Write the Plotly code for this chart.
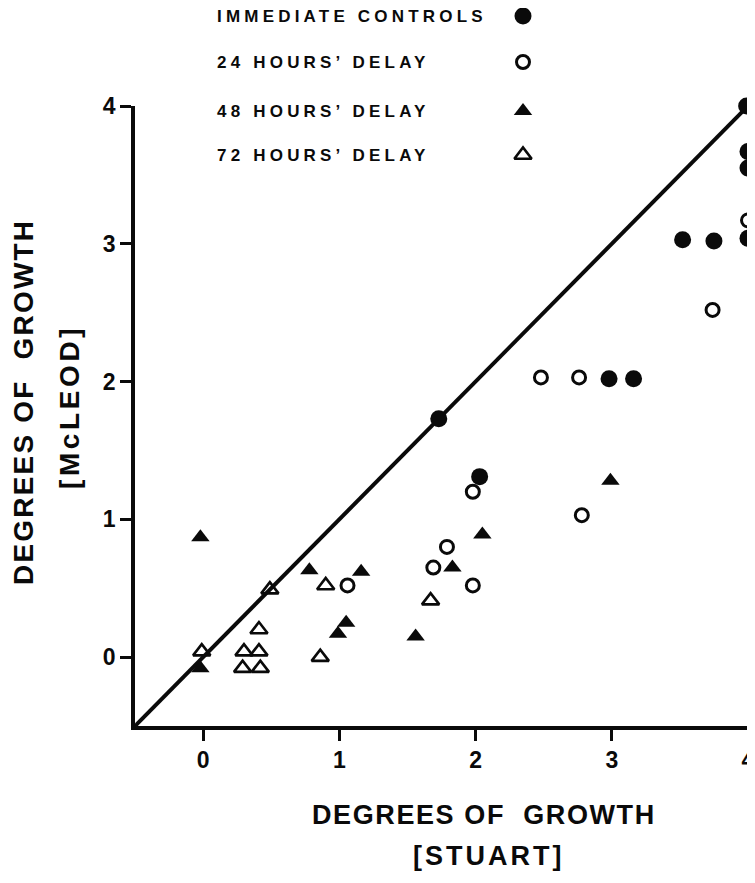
import plotly.graph_objects as go

# ---------------- data ----------------
series_names = ["IMMEDIATE CONTROLS", "24 HOURS\u2019 DELAY", "48 HOURS\u2019 DELAY", "72 HOURS\u2019 DELAY"]

immediate_x = [1.73, 2.03, 2.98, 3.16, 3.52, 3.75, 3.99, 4.0, 4.0, 4.0]
immediate_y = [1.73, 1.31, 2.02, 2.02, 3.03, 3.02, 4.0, 3.67, 3.55, 3.04]

delay24_x = [2.48, 2.76, 4.0, 3.74, 1.98, 2.78, 1.79, 1.69, 1.98, 1.06]
delay24_y = [2.03, 2.03, 3.17, 2.52, 1.20, 1.03, 0.80, 0.65, 0.52, 0.52]

delay48_x = [-0.02, -0.02, 0.78, 1.16, 1.05, 0.99, 1.56, 2.05, 1.83, 2.99]
delay48_y = [0.87, -0.08, 0.63, 0.62, 0.25, 0.17, 0.15, 0.89, 0.65, 1.28]

delay72_x = [-0.01, 0.49, 0.30, 0.41, 0.29, 0.42, 0.41, 0.90, 0.86, 1.67]
delay72_y = [0.04, 0.49, 0.04, 0.04, -0.08, -0.08, 0.20, 0.52, 0.00, 0.41]

identity_x = [-0.5, 4.0]
identity_y = [-0.5, 4.0]

tick_vals = [0, 1, 2, 3, 4]
tick_text = ["0", "1", "2", "3", "4"]

# ---------------- layout constants ----------------
INK = "#0a0a0a"
FONT = "Liberation Sans, Arial, sans-serif"
FIG_W, FIG_H = 755, 883
M_L, M_R, M_T, M_B = 127, 15, 0, 165
PLOT_W = FIG_W - M_L - M_R          # 613
PLOT_H = FIG_H - M_T - M_B          # 718
MAIN_TOP = 0.8635                   # main y-axis domain top

# legend panel uses pixel-like coordinates (x2: px from figure left, y2: px from top)
LEG_TEXT_X = 207
LEG_MARK_X = 515
LEG_ROWS_Y = [8, 54, 103, 147]

styles = [
    dict(symbol="circle", size=17, color=INK, line=dict(width=0)),
    dict(symbol="circle-open", size=13, color=INK, line=dict(width=3, color=INK)),
    dict(symbol="triangle-up", size=16, color=INK, line=dict(width=0)),
    dict(symbol="triangle-up-open", size=15, color=INK, line=dict(width=2.6, color=INK)),
]
series = [
    (immediate_x, immediate_y),
    (delay24_x, delay24_y),
    (delay48_x, delay48_y),
    (delay72_x, delay72_y),
]

fig = go.Figure()

fig.add_trace(go.Scatter(
    x=identity_x, y=identity_y, mode="lines",
    line=dict(color=INK, width=4), showlegend=False, hoverinfo="skip",
    cliponaxis=False,
))

for (xs, ys), st, name in zip(series, styles, series_names):
    fig.add_trace(go.Scatter(
        x=xs, y=ys, mode="markers", name=name, marker=st,
        showlegend=False, cliponaxis=False,
    ))

# manual legend: text on the left, symbol on the right
for name, st, ly in zip(series_names, styles, LEG_ROWS_Y):
    fig.add_trace(go.Scatter(
        x=[LEG_MARK_X], y=[ly], mode="markers", marker=st, xaxis="x2", yaxis="y2",
        showlegend=False, cliponaxis=False, hoverinfo="skip",
    ))
    fig.add_annotation(
        x=LEG_TEXT_X, y=ly, xref="x2", yref="y2", xanchor="left", yanchor="middle",
        text='<b><span style="letter-spacing:4.2px">' + name + "</span></b>",
        showarrow=False, font=dict(family=FONT, size=17, color=INK),
    )

def px_x(sx):
    return (sx - 8 - M_L) / PLOT_W

def px_y(sy):
    return (PLOT_H - (sy - 8 - M_T)) / PLOT_H

fig.add_annotation(
    x=px_x(484), y=px_y(815), xref="paper", yref="paper", xanchor="center", yanchor="middle",
    text='<b><span style="letter-spacing:1.6px">DEGREES OF  GROWTH</span></b>',
    showarrow=False, font=dict(family=FONT, size=27, color=INK),
)
fig.add_annotation(
    x=px_x(488), y=px_y(856), xref="paper", yref="paper", xanchor="center", yanchor="middle",
    text='<b><span style="letter-spacing:3px">[STUART]</span></b>',
    showarrow=False, font=dict(family=FONT, size=27, color=INK),
)
fig.add_annotation(
    x=px_x(24), y=px_y(402), xref="paper", yref="paper", xanchor="center", yanchor="middle",
    text='<b><span style="letter-spacing:2.2px">DEGREES OF  GROWTH</span></b>',
    textangle=-90, showarrow=False, font=dict(family=FONT, size=28, color=INK),
)
fig.add_annotation(
    x=px_x(69), y=px_y(407), xref="paper", yref="paper", xanchor="center", yanchor="middle",
    text='<b><span style="letter-spacing:3.6px">[McLEOD]</span></b>',
    textangle=-90, showarrow=False, font=dict(family=FONT, size=28, color=INK),
)

axis_common = dict(
    showgrid=False, zeroline=False, showline=True, linecolor=INK, linewidth=3.5,
    ticks="outside", ticklen=11, tickwidth=3, tickcolor=INK,
    tickvals=tick_vals, ticktext=tick_text,
    tickfont=dict(family=FONT, size=23, color=INK, weight="bold"),
    mirror=False, automargin=False,
)

fig.update_layout(
    width=FIG_W, height=FIG_H,
    margin=dict(l=M_L, r=M_R, t=M_T, b=M_B, autoexpand=False),
    paper_bgcolor="white", plot_bgcolor="rgba(0,0,0,0)",
    xaxis=dict(range=[-0.5, 4.0], domain=[0, 1], anchor="y", **axis_common),
    yaxis=dict(range=[-0.5, 4.0], domain=[0, MAIN_TOP], anchor="x", **axis_common),
    xaxis2=dict(range=[M_L, M_L + PLOT_W], domain=[0, 1], anchor="y2", visible=False,
                fixedrange=True, automargin=False),
    yaxis2=dict(range=[PLOT_H, 0], domain=[0, 1], anchor="x2", visible=False,
                fixedrange=True, automargin=False),
    showlegend=False,
)

fig.write_html("out.html")
